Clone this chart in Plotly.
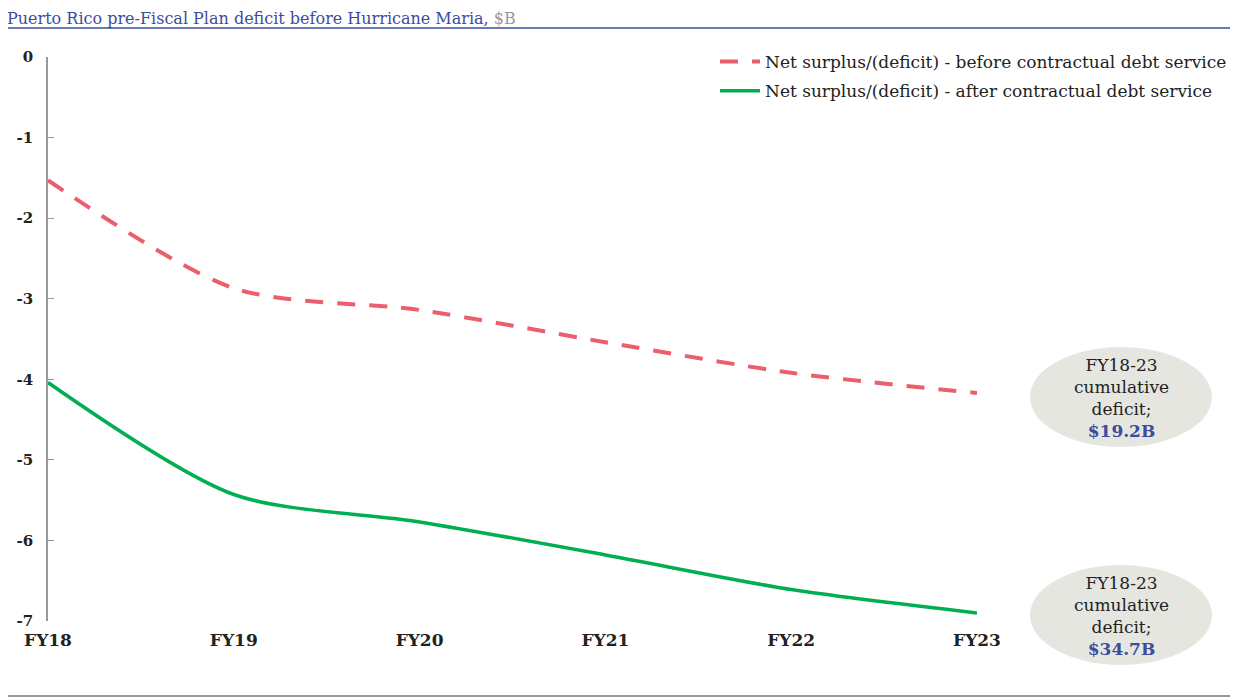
import plotly.graph_objects as go

years = ["FY18", "FY19", "FY20", "FY21", "FY22", "FY23"]
before_ds = [-1.53, -2.87, -3.14, -3.54, -3.92, -4.17]
after_ds = [-4.04, -5.43, -5.77, -6.18, -6.61, -6.90]
y_ticks = [0, -1, -2, -3, -4, -5, -6, -7]
cum_before = "$19.2B"
cum_after = "$34.7B"

FONT = "DejaVu Serif"
OFF = 8  # page body margin
W, H = 1238 - OFF, 698 - OFF
# reference pixel positions of plot area
PL, PR, PT, PB = 48, 977, 57, 621
L, T = PL - OFF, PT - OFF
R = W - (PR - OFF)
B = H - (PB - OFF)
pw, ph = PR - PL, PB - PT

def px(x):
    return (x - PL) / pw

def py(y):
    return (PB - y) / ph

fig = go.Figure()
xs = list(range(len(years)))
fig.add_trace(go.Scatter(x=xs, y=before_ds, mode="lines", legendgroup="a",
                         name="Net surplus/(deficit) - before contractual debt service",
                         line=dict(color="#EA5F6B", width=4, dash="18px,14px", shape="spline", smoothing=0.8)))
fig.add_trace(go.Scatter(x=xs, y=after_ds, mode="lines", legendgroup="b",
                         name="Net surplus/(deficit) - after contractual debt service",
                         line=dict(color="#00B050", width=3.5, shape="spline", smoothing=0.8)))

fig.update_xaxes(range=[0, 5], tickvals=xs, ticktext=["<b>" + y + "</b>" for y in years],
                 showgrid=False, zeroline=False, showline=False, ticks="", ticklabelstandoff=7,
                 tickfont=dict(family=FONT, size=17, color="#222"))
fig.update_yaxes(range=[-7, 0], tickvals=y_ticks, ticktext=["<b>" + str(v) + "</b>" for v in y_ticks],
                 showgrid=False, zeroline=False, showline=True, linecolor="#999", linewidth=1.5,
                 ticks="inside", ticklen=6, tickcolor="#999", ticklabelstandoff=10,
                 tickfont=dict(family=FONT, size=15, color="#222"))

shapes = [
    dict(type="line", xref="paper", yref="paper", x0=px(0), x1=px(1238), y0=py(28), y1=py(28),
         line=dict(color="#3D4C9B", width=1.5)),
    dict(type="line", xref="paper", yref="paper", x0=px(0), x1=px(1238), y0=py(696), y1=py(696),
         line=dict(color="#777", width=1.5)),
    dict(type="circle", xref="paper", yref="paper", x0=px(1030), x1=px(1212), y0=py(447), y1=py(347),
         fillcolor="#E6E6E1", line=dict(width=0), layer="below"),
    dict(type="circle", xref="paper", yref="paper", x0=px(1030), x1=px(1212), y0=py(665), y1=py(565),
         fillcolor="#E6E6E1", line=dict(width=0), layer="below"),
]

annotations = [
    dict(xref="paper", yref="paper", x=px(6), y=py(8), xanchor="left", yanchor="top",
         text="Puerto Rico pre-Fiscal Plan deficit before Hurricane Maria, <span style='color:#999'>$B</span>",
         showarrow=False, borderpad=0, font=dict(family=FONT, size=16, color="#3D4C9B")),
    dict(xref="paper", yref="paper", x=px(1121), y=py(398), xanchor="center", yanchor="middle",
         text="FY18-23<br>cumulative<br>deficit;<br><b><span style='color:#3D4C9B'>" + cum_before + "</span></b>",
         showarrow=False, align="center", font=dict(family=FONT, size=17, color="#222")),
    dict(xref="paper", yref="paper", x=px(1121), y=py(616), xanchor="center", yanchor="middle",
         text="FY18-23<br>cumulative<br>deficit;<br><b><span style='color:#3D4C9B'>" + cum_after + "</span></b>",
         showarrow=False, align="center", font=dict(family=FONT, size=17, color="#222")),
]

fig.update_layout(
    width=W, height=H,
    margin=dict(l=L, r=R, t=T, b=B, autoexpand=False),
    paper_bgcolor="white", plot_bgcolor="white",
    showlegend=True,
    legend=dict(x=px(1232), y=py(44), xanchor="right", yanchor="top",
                font=dict(family=FONT, size=17, color="#222"),
                bgcolor="rgba(0,0,0,0)", itemwidth=40, tracegroupgap=4),
    shapes=shapes, annotations=annotations,
    font=dict(family=FONT),
)

fig.write_html("out.html")
